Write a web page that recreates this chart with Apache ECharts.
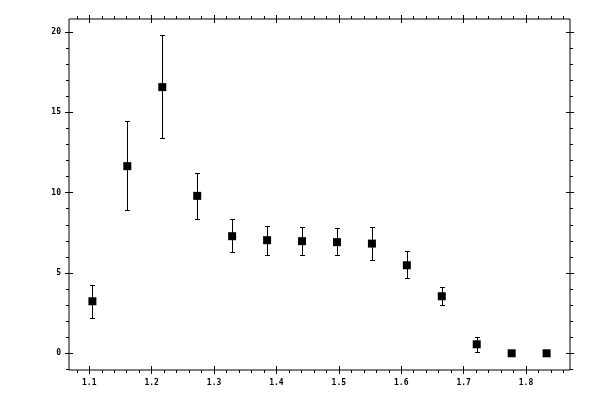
<!DOCTYPE html>
<html>
<head>
<meta charset="utf-8">
<script src="https://cdn.jsdelivr.net/npm/echarts@6/dist/echarts.min.js"></script>
<style>
  html, body { margin: 0; padding: 0; background: #fff; }
  #chart { width: 600px; height: 400px; }
</style>
</head>
<body>
<div id="chart"></div>
<script>
// data
var xs = [1.105, 1.161, 1.217, 1.273, 1.329, 1.385, 1.441, 1.497, 1.553, 1.609, 1.665, 1.721, 1.777, 1.833];
var ys = [3.24, 11.65, 16.57, 9.8, 7.29, 7.04, 6.98, 6.92, 6.83, 5.48, 3.55, 0.56, 0, 0];
var lo = [2.18, 8.91, 13.41, 8.35, 6.29, 6.1, 6.1, 6.1, 5.79, 4.67, 2.99, 0.06, 0, 0];
var hi = [4.24, 14.43, 19.83, 11.21, 8.35, 7.93, 7.85, 7.79, 7.85, 6.36, 4.11, 1.02, 0, 0];

var xMajor = [1.1, 1.2, 1.3, 1.4, 1.5, 1.6, 1.7, 1.8];
var yMajor = [0, 5, 10, 15, 20];

var xMin = 1.0675, xMax = 1.8705;
var yMin = -1.04, yMax = 20.81;

// minor tick positions (axis decoration only)
var xMinor = [];
for (var i = 54; i <= 93; i++) xMinor.push(+(i * 0.02).toFixed(2));
xMinor = xMinor.filter(function (v) { return v > xMin && v < xMax; });
var yMinor = [];
for (var j = -1; j <= 20; j++) yMinor.push(j);

var font = { fontFamily: 'DejaVu Sans Mono', fontSize: 8, fontWeight: 'bold', color: '#000' };

function majorAxis(pos, min, max, vals, labels, margin) {
  return {
    type: 'value', position: pos, min: min, max: max, offset: -4,
    splitLine: { show: false },
    axisLine: { show: false, onZero: false },
    axisTick: { show: true, inside: false, length: 8, customValues: vals, lineStyle: { color: '#000', width: 1 } },
    axisLabel: labels ? Object.assign({ show: true, customValues: vals, margin: margin }, font) : { show: false }
  };
}
function minorAxis(pos, min, max, vals) {
  return {
    type: 'value', position: pos, min: min, max: max, offset: 0,
    splitLine: { show: false },
    axisLine: { show: false, onZero: false },
    axisTick: { show: true, inside: false, length: 3, customValues: vals, lineStyle: { color: '#000', width: 1 } },
    axisLabel: { show: false }
  };
}

var chart = echarts.init(document.getElementById('chart'));

var option = {
  animation: false,
  backgroundColor: '#fff',
  grid: { left: 69, right: 30, top: 19, bottom: 30, show: true, borderColor: '#000', borderWidth: 1, containLabel: false },
  xAxis: [
    majorAxis('bottom', xMin, xMax, xMajor, true, 13),
    minorAxis('bottom', xMin, xMax, xMinor),
    majorAxis('top', xMin, xMax, xMajor, false),
    minorAxis('top', xMin, xMax, xMinor)
  ],
  yAxis: [
    majorAxis('left', yMin, yMax, yMajor, true, 12),
    minorAxis('left', yMin, yMax, yMinor),
    majorAxis('right', yMin, yMax, yMajor, false),
    minorAxis('right', yMin, yMax, yMinor)
  ],
  series: [
    {
      type: 'custom',
      xAxisIndex: 0, yAxisIndex: 0,
      data: xs.map(function (x, k) { return [x, lo[k], hi[k]]; }),
      renderItem: function (params, api) {
        if (api.value(1) === api.value(2)) return null;
        var top = api.coord([api.value(0), api.value(2)]);
        var bot = api.coord([api.value(0), api.value(1)]);
        var x = Math.round(top[0]) + 0.5;
        var t = Math.round(top[1]) + 0.5, b = Math.round(bot[1]) + 0.5;
        var st = { stroke: '#000', lineWidth: 1 };
        return {
          type: 'group',
          children: [
            { type: 'line', shape: { x1: x, y1: t, x2: x, y2: b }, style: st },
            { type: 'line', shape: { x1: x - 2.5, y1: t, x2: x + 2.5, y2: t }, style: st },
            { type: 'line', shape: { x1: x - 2.5, y1: b, x2: x + 2.5, y2: b }, style: st }
          ]
        };
      },
      z: 2
    },
    {
      type: 'scatter',
      xAxisIndex: 0, yAxisIndex: 0,
      symbol: 'rect', symbolSize: 8,
      itemStyle: { color: '#000', opacity: 1 },
      data: xs.map(function (x, k) { return [x, ys[k]]; }),
      z: 3
    }
  ]
};

chart.setOption(option);
</script>
</body>
</html>
